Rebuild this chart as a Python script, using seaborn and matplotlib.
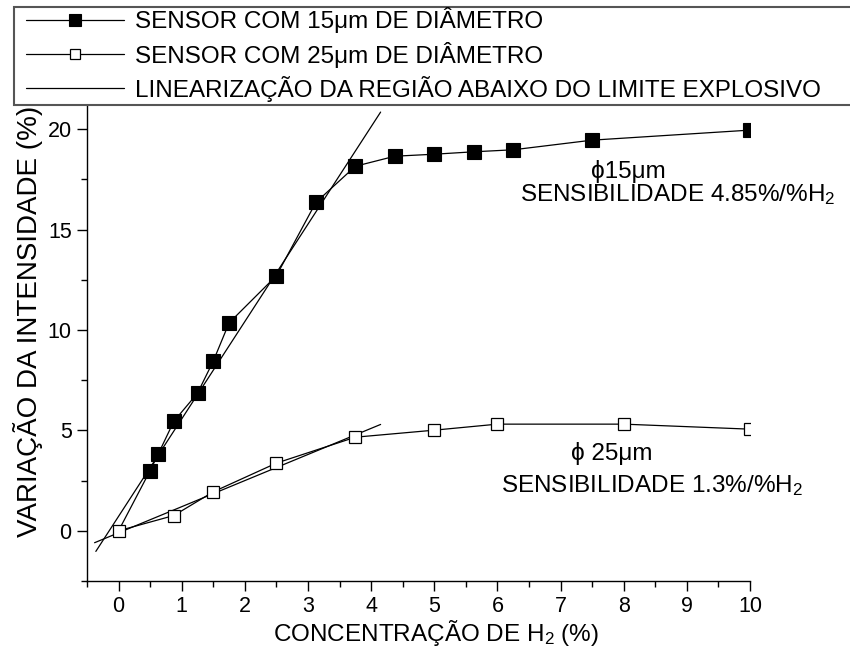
import numpy as np
import pandas as pd
import matplotlib
matplotlib.use("Agg")
import matplotlib.pyplot as plt
import seaborn as sns
from matplotlib.ticker import MultipleLocator
from matplotlib.patches import Rectangle

# ---------------- data ----------------
conc_15 = [0.0, 0.5, 0.625, 0.875, 1.25, 1.5, 1.75, 2.5, 3.125, 3.75, 4.375, 5.0, 5.625, 6.25, 7.5, 10.0]
var_15 = [0.0, 3.0, 3.8, 5.45, 6.85, 8.45, 10.35, 12.7, 16.35, 18.15, 18.65, 18.75, 18.87, 18.97, 19.45, 19.95]

conc_25 = [0.0, 0.875, 1.5, 2.5, 3.75, 5.0, 6.0, 8.0, 10.0]
var_25 = [0.0, 0.76, 1.94, 3.37, 4.66, 5.01, 5.31, 5.31, 5.06]

# linearization (below explosive limit)
fit15_x = [-0.36, 4.15]
fit15_slope, fit15_icpt = 4.85, 0.72
fit25_x = [-0.38, 4.15]
fit25_slope, fit25_icpt = 1.30, -0.10

legend_labels = ["SENSOR COM 15μm DE DIÂMETRO",
                 "SENSOR COM 25μm DE DIÂMETRO",
                 "LINEARIZAÇÃO DA REGIÃO ABAIXO DO LIMITE EXPLOSIVO"]
xlabel = "CONCENTRAÇÃO DE H$_{2}$ (%)"
ylabel = "VARIAÇÃO DA INTENSIDADE (%)"

# ---------------- style ----------------
sns.set_theme(style="ticks")
plt.rcParams["font.family"] = ["Liberation Sans", "DejaVu Sans"]
plt.rcParams["mathtext.fontset"] = "custom"
plt.rcParams["mathtext.rm"] = "Liberation Sans"
plt.rcParams["mathtext.it"] = "Liberation Sans:italic"
plt.rcParams["mathtext.bf"] = "Liberation Sans:bold"

W, H = 850, 651
fig = plt.figure(figsize=(W / 100, H / 100), dpi=100)
fig.patch.set_facecolor("white")
ax = fig.add_axes([87 / W, 1 - 581 / H, (750 - 87) / W, (581 - 105) / H])
ax.set_facecolor("white")

df15 = pd.DataFrame({"x": conc_15, "y": var_15})
df25 = pd.DataFrame({"x": conc_25, "y": var_25})
f15 = pd.DataFrame({"x": fit15_x, "y": [fit15_slope * v + fit15_icpt for v in fit15_x]})
f25 = pd.DataFrame({"x": fit25_x, "y": [fit25_slope * v + fit25_icpt for v in fit25_x]})

lw = 0.9
sns.lineplot(data=f15, x="x", y="y", ax=ax, color="black", lw=lw, sort=False,
             estimator=None, label=legend_labels[2], zorder=2)
sns.lineplot(data=f25, x="x", y="y", ax=ax, color="black", lw=lw, sort=False,
             estimator=None, label="_nolegend_", zorder=2)
sns.lineplot(data=df15, x="x", y="y", ax=ax, color="black", lw=lw, sort=False,
             estimator=None, marker="s", markersize=9.5, markerfacecolor="black",
             markeredgecolor="black", markeredgewidth=0.8,
             markevery=list(range(1, len(conc_15))),
             label=legend_labels[0], zorder=3)
sns.lineplot(data=df25, x="x", y="y", ax=ax, color="black", lw=lw, sort=False,
             estimator=None, marker="s", markersize=8, markerfacecolor="white",
             markeredgecolor="black", markeredgewidth=0.9, label=legend_labels[1], zorder=4)

ax.set_xlim(-0.5, 10)
ax.set_ylim(-2.5, 21.2)
ax.xaxis.set_major_locator(MultipleLocator(1))
ax.xaxis.set_minor_locator(MultipleLocator(0.5))
ax.yaxis.set_major_locator(MultipleLocator(5))
ax.yaxis.set_minor_locator(MultipleLocator(2.5))
ax.tick_params(which="major", direction="out", length=7, width=1.0, labelsize=15.5, color="black",
               labelcolor="black", pad=4)
ax.tick_params(which="minor", direction="out", length=4, width=1.0, color="black")
for s in ["top", "right"]:
    ax.spines[s].set_visible(False)
for s in ["left", "bottom"]:
    ax.spines[s].set_linewidth(1.0)
    ax.spines[s].set_color("black")
ax.grid(False)

ax.set_xlabel(xlabel, fontsize=17.5, color="black")
ax.xaxis.set_label_coords(0.526, -0.078)
ax.set_ylabel(ylabel, fontsize=20, color="black")
ax.yaxis.set_label_coords(-0.066, 0.545)

# annotations
ax.text(7.48, 17.55, "ϕ15μm", fontsize=17.5, ha="left", va="baseline", color="black")
ax.text(6.36, 16.43, "SENSIBILIDADE 4.85%/%H$_{2}$", fontsize=17.5, ha="left", va="baseline", color="black")
ax.text(7.16, 3.52, "ϕ 25μm", fontsize=17.5, ha="left", va="baseline", color="black")
ax.text(6.06, 1.95, "SENSIBILIDADE 1.3%/%H$_{2}$", fontsize=17.5, ha="left", va="baseline", color="black")

# legend
handles, labels = ax.get_legend_handles_labels()
order = [labels.index(l) for l in legend_labels]
handles = [handles[i] for i in order]
if ax.get_legend():
    ax.get_legend().remove()

fig.patches.append(Rectangle((14 / W, 1 - 105 / H), (860 - 14) / W, (105 - 7) / H,
                             transform=fig.transFigure, facecolor="white",
                             edgecolor="#555555", linewidth=1.5, zorder=5))
leg = fig.legend(handles, legend_labels, loc="upper left",
                 bbox_to_anchor=(24 / W, 1 - 5 / H), frameon=False,
                 fontsize=17.5, handlelength=4.0, handletextpad=0.45,
                 labelspacing=0.34, borderpad=0.1, borderaxespad=0, markerscale=0.85)
leg.set_zorder(6)
for t in leg.get_texts():
    t.set_color("black")

fig.savefig("out.png", dpi=100, facecolor="white")
